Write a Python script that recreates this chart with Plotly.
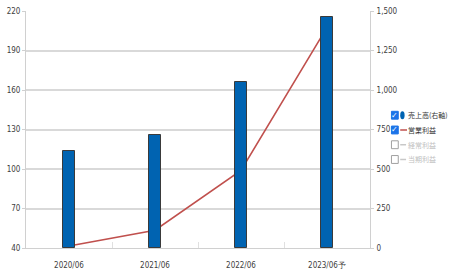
import plotly.graph_objects as go

categories = ["2020/06", "2021/06", "2022/06", "2023/06予"]
sales = [611, 714, 1051, 1462]          # 売上高 (right axis)
op_profit = [41.5, 53.5, 99, 207.5]     # 営業利益 (left axis)
left_ticks = [40, 70, 100, 130, 160, 190, 220]
right_ticks = [0, 250, 500, 750, 1000, 1250, 1500]
legend_names = ["売上高(右軸)", "営業利益", "経常利益", "当期利益"]
legend_checked = [True, True, False, False]

W, H = 451, 280
ML, MR, MT, MB = 17, 81, 7, 32
PW, PH = W - ML - MR, H - MT - MB

fig = go.Figure()
fig.add_trace(go.Bar(
    x=categories, y=sales, yaxis="y2", name=legend_names[0],
    width=0.15, marker=dict(color="#0063B1", line=dict(color="#3a3a3a", width=1)),
))
fig.add_trace(go.Scatter(
    x=categories, y=op_profit, yaxis="y", name=legend_names[1], mode="lines",
    line=dict(color="#C0504D", width=1.6),
))

tickfont = dict(family="DejaVu Sans Condensed, Liberation Sans Narrow, Liberation Sans, sans-serif", size=8, color="#404040")
fig.update_layout(
    width=W, height=H, margin=dict(l=ML, r=MR, t=MT, b=MB, pad=0),
    paper_bgcolor="white", plot_bgcolor="white", showlegend=False,
    separators=".,",
    xaxis=dict(type="category", showgrid=False, showline=True, linecolor="#d0d0d0", linewidth=1,
               ticks="inside", tickson="boundaries", ticklen=6, tickcolor="#e0e0e0",
               tickfont=tickfont, ticklabelstandoff=9),
    yaxis=dict(range=[40, 220], tickvals=left_ticks, showgrid=True, gridcolor="#d9d9d9", gridwidth=1.5,
               showline=True, linecolor="#d0d0d0", ticks="outside", ticklen=3, tickcolor="#d0d0d0",
               tickfont=tickfont, zeroline=False),
    yaxis2=dict(range=[0, 1500], tickvals=right_ticks, overlaying="y", side="right", showgrid=False,
                showline=True, linecolor="#d0d0d0", ticks="outside", ticklen=3, tickcolor="#d0d0d0",
                tickformat=",d", tickfont=tickfont, zeroline=False, ticklabelstandoff=1),
    bargap=0,
)

# Manual legend (checkbox style); convert page pixels to paper coords
def px_x(x):
    return (x - ML) / PW
def px_y(y):
    return (H - MB - y) / PH

row_y = [113, 128, 143, 158]
for name, checked, y in zip(legend_names, legend_checked, row_y):
    if checked:
        fig.add_shape(type="rect", xref="paper", yref="paper",
                      x0=px_x(392), x1=px_x(399), y0=px_y(y + 4), y1=px_y(y - 4),
                      fillcolor="#1a73e8", line=dict(color="#1a73e8", width=1), layer="above")
        fig.add_annotation(x=px_x(395.5), y=px_y(y), xref="paper", yref="paper", text="✓",
                           showarrow=False, font=dict(color="white", size=8, family="DejaVu Sans"),
                           xanchor="center", yanchor="middle")
    else:
        fig.add_shape(type="rect", xref="paper", yref="paper",
                      x0=px_x(392), x1=px_x(399), y0=px_y(y + 4), y1=px_y(y - 4),
                      fillcolor="white", line=dict(color="#a0a0a0", width=1), layer="above")
    color = "#333333" if checked else "#c0c0c0"
    fig.add_annotation(x=px_x(407), y=px_y(y), xref="paper", yref="paper", text=name,
                       showarrow=False, xanchor="left", yanchor="middle",
                       font=dict(size=7, color=color, family="Noto Sans CJK JP"))

# legend symbols
fig.add_shape(type="circle", xref="paper", yref="paper",
              x0=px_x(401), x1=px_x(405.5), y0=px_y(row_y[0] + 4), y1=px_y(row_y[0] - 4),
              fillcolor="#0063B1", line=dict(width=0))
fig.add_shape(type="line", xref="paper", yref="paper",
              x0=px_x(401), x1=px_x(408), y0=px_y(row_y[1]), y1=px_y(row_y[1]),
              line=dict(color="#C0504D", width=1.5))
for y in row_y[2:]:
    fig.add_shape(type="line", xref="paper", yref="paper",
                  x0=px_x(401), x1=px_x(407), y0=px_y(y), y1=px_y(y),
                  line=dict(color="#c8c8c8", width=1.5))

fig.write_html("out.html")
